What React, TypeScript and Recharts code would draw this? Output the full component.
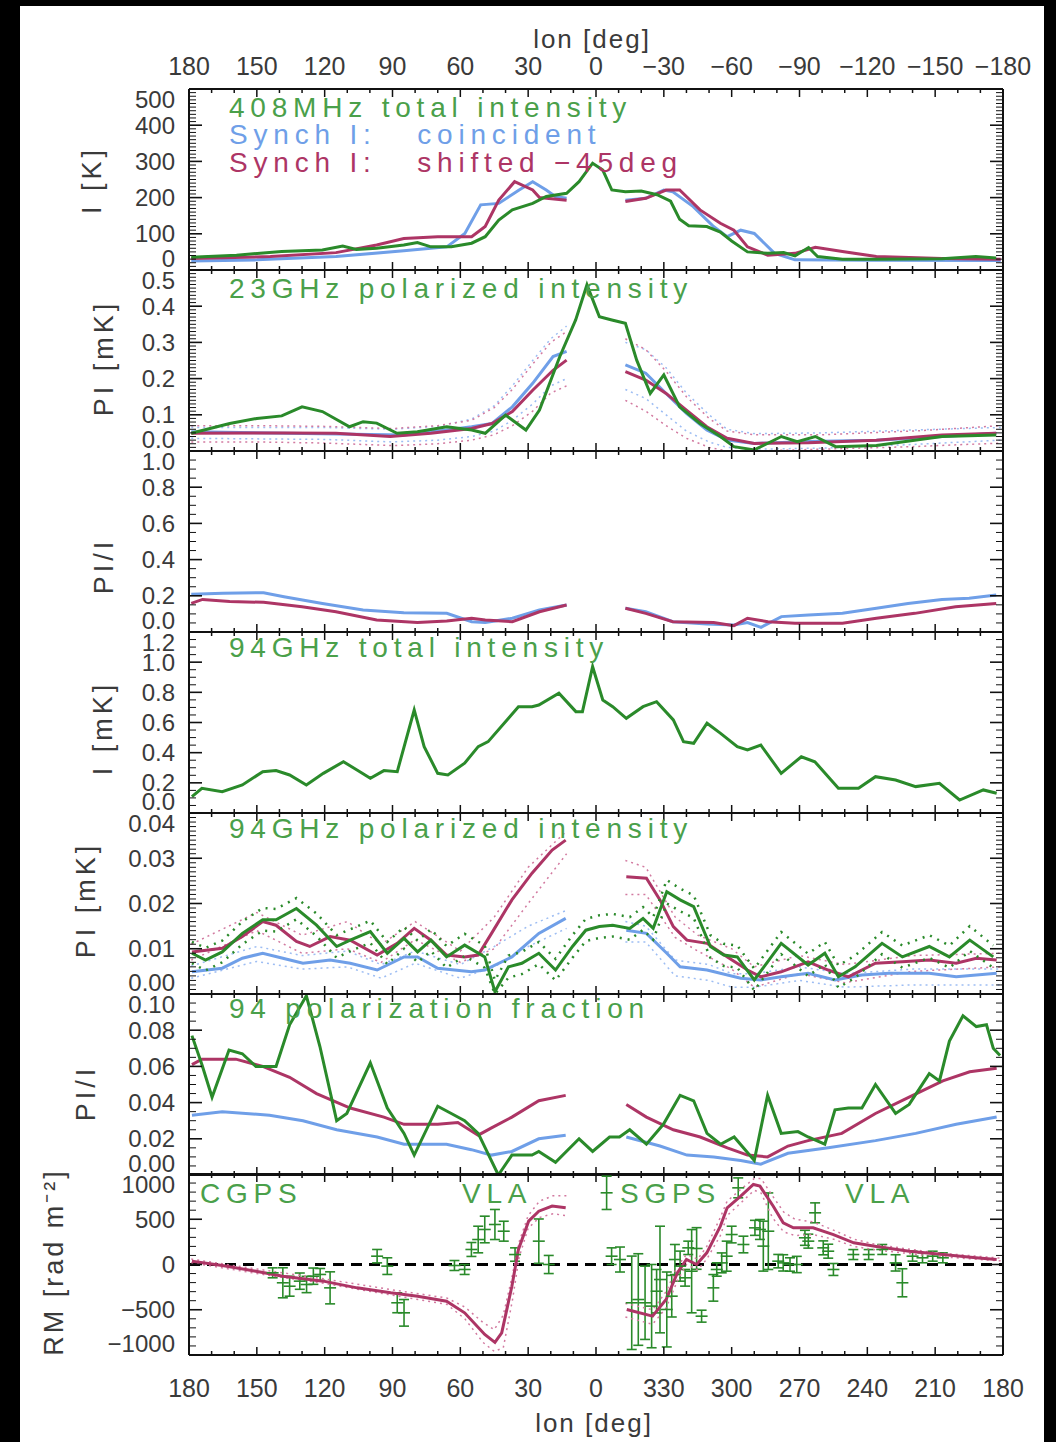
import React from "react";
import { ComposedChart, Line, XAxis, YAxis, Scatter, ErrorBar, ReferenceLine } from "recharts";

type Pt = [number, number | null];

// ---------- longitude axis ----------
const lonMajor = [180, 150, 120, 90, 60, 30, 0, -30, -60, -90, -120, -150, -180];
const lonTopLabels = ["180", "150", "120", "90", "60", "30", "0", "\u221230", "\u221260", "\u221290", "\u2212120", "\u2212150", "\u2212180"];
const lonBottomLabels = ["180", "150", "120", "90", "60", "30", "0", "330", "300", "270", "240", "210", "180"];

// ---------- panel 1: 408 MHz total intensity [K] ----------
const p1Ticks = [0, 100, 200, 300, 400, 500];
const p1Labels = ["0", "100", "200", "300", "400", "500"];
const i408Obs: Pt[] = [[179, 35], [159, 41], [139, 51], [121, 55], [112, 66], [106, 57], [97, 60], [85, 69], [79, 76], [73, 64], [64, 64], [55, 74], [49, 92], [43, 138], [37, 166], [28, 184], [22, 203], [13, 212], [7.5, 244], [1.5, 295], [-3, 276], [-7, 221], [-13, 216], [-20, 218], [-27, 208], [-33, 190], [-37, 140], [-41, 122], [-49, 120], [-55, 105], [-60, 80], [-67, 50], [-76, 46], [-83, 48], [-88, 39], [-94, 62], [-98, 37], [-109, 30], [-124, 30], [-153, 31], [-168, 37], [-177, 33]];
const i408Coin: Pt[] = [[179, 25], [150, 28], [115, 37], [85, 53], [66, 64], [58, 101], [51, 180], [43, 184], [34, 221], [28, 244], [22, 221], [18, 203], [13, 198], [0, null], [-13, 193], [-22, 198], [-30, 221], [-34, 216], [-43, 175], [-52, 120], [-58, 92], [-64, 110], [-70, 101], [-79, 46], [-88, 28], [-120, 27], [-179, 26]];
const i408Shift: Pt[] = [[179, 32], [144, 37], [115, 48], [97, 69], [85, 87], [70, 92], [55, 92], [49, 120], [43, 193], [36, 244], [28, 221], [25, 200], [13, 193], [0, null], [-13, 189], [-22, 198], [-31, 221], [-37, 221], [-46, 166], [-55, 129], [-61, 110], [-67, 64], [-76, 41], [-88, 46], [-97, 63], [-109, 51], [-124, 37], [-153, 32], [-179, 30]];

// ---------- panel 2: 23 GHz polarized intensity [mK] ----------
const p2Ticks = [0, 0.1, 0.2, 0.3, 0.4, 0.5];
const p2Labels = ["0.0", "0.1", "0.2", "0.3", "0.4", "0.5"];
const pi23Obs: Pt[] = [[179, 0.049], [162, 0.076], [150, 0.09], [139, 0.097], [130, 0.122], [121, 0.109], [109, 0.067], [103, 0.081], [97, 0.077], [88, 0.049], [79, 0.053], [66, 0.067], [55, 0.058], [49, 0.049], [40, 0.099], [31, 0.058], [25, 0.113], [16, 0.261], [9, 0.362], [4, 0.459], [-1.5, 0.371], [-7, 0.362], [-13, 0.353], [-18, 0.251], [-24, 0.159], [-30, 0.21], [-37, 0.122], [-46, 0.076], [-55, 0.04], [-61, 0.012], [-70, 0.003], [-82, 0.04], [-89, 0.026], [-97, 0.04], [-106, 0.012], [-124, 0.015], [-153, 0.04], [-177, 0.044]];
const pi23Coin: Pt[] = [[179, 0.053], [85, 0.044], [66, 0.058], [55, 0.067], [46, 0.076], [37, 0.122], [28, 0.187], [19, 0.261], [13, 0.275], [0, null], [-13, 0.238], [-22, 0.215], [-31, 0.159], [-40, 0.104], [-49, 0.058], [-58, 0.03], [-70, 0.021], [-94, 0.026], [-124, 0.03], [-153, 0.04], [-177, 0.049]];
const pi23Shift: Pt[] = [[179, 0.049], [138, 0.05], [115, 0.049], [91, 0.04], [73, 0.049], [55, 0.062], [46, 0.076], [37, 0.109], [28, 0.168], [19, 0.223], [13, 0.251], [0, null], [-13, 0.219], [-22, 0.196], [-31, 0.159], [-40, 0.113], [-49, 0.067], [-58, 0.035], [-70, 0.021], [-94, 0.023], [-124, 0.03], [-153, 0.044], [-177, 0.049]];
const pi23CoinHi: Pt[] = [[179, 0.065], [120, 0.065], [90, 0.06], [70, 0.068], [55, 0.088], [45, 0.125], [37, 0.18], [28, 0.25], [20, 0.31], [13, 0.345], [0, null], [-13, 0.3], [-22, 0.28], [-31, 0.23], [-40, 0.16], [-50, 0.1], [-58, 0.06], [-70, 0.048], [-100, 0.05], [-140, 0.058], [-179, 0.065]];
const pi23CoinLo: Pt[] = [[179, 0.035], [120, 0.032], [90, 0.025], [70, 0.03], [55, 0.04], [45, 0.055], [37, 0.085], [28, 0.13], [20, 0.18], [13, 0.2], [0, null], [-13, 0.17], [-22, 0.145], [-31, 0.1], [-40, 0.055], [-50, 0.025], [-58, 0.01], [-70, 0.005], [-100, 0.008], [-140, 0.018], [-179, 0.03]];
const pi23ShiftHi: Pt[] = [[179, 0.07], [150, 0.07], [120, 0.068], [90, 0.062], [70, 0.07], [55, 0.085], [45, 0.12], [37, 0.17], [28, 0.24], [20, 0.3], [13, 0.33], [0, null], [-13, 0.31], [-22, 0.28], [-31, 0.22], [-40, 0.15], [-50, 0.09], [-58, 0.055], [-70, 0.045], [-100, 0.045], [-140, 0.055], [-179, 0.07]];
const pi23ShiftLo: Pt[] = [[179, 0.025], [150, 0.025], [120, 0.022], [90, 0.015], [70, 0.02], [55, 0.03], [45, 0.045], [37, 0.07], [28, 0.11], [20, 0.16], [13, 0.18], [0, null], [-13, 0.14], [-22, 0.11], [-31, 0.07], [-40, 0.035], [-50, 0.01], [-58, 0.0], [-70, 0.0], [-100, 0.005], [-140, 0.012], [-179, 0.022]];

// ---------- panel 3: synchrotron PI/I ----------
const p3Ticks = [0, 0.2, 0.4, 0.6, 0.8, 1.0];
const p3Labels = ["0.0", "0.2", "0.4", "0.6", "0.8", "1.0"];
const frac23Coin: Pt[] = [[179, 0.208], [165, 0.214], [147, 0.217], [138, 0.195], [121, 0.158], [103, 0.122], [85, 0.107], [66, 0.103], [55, 0.057], [49, 0.052], [37, 0.076], [25, 0.122], [13, 0.149], [0, null], [-13, 0.131], [-22, 0.112], [-34, 0.057], [-49, 0.044], [-61, 0.039], [-67, 0.052], [-73, 0.026], [-82, 0.085], [-94, 0.094], [-109, 0.103], [-124, 0.131], [-138, 0.158], [-153, 0.18], [-165, 0.186], [-177, 0.204]];
const frac23Shift: Pt[] = [[179, 0.158], [174, 0.18], [162, 0.168], [147, 0.164], [130, 0.14], [115, 0.112], [97, 0.066], [79, 0.052], [66, 0.061], [55, 0.076], [49, 0.066], [37, 0.057], [25, 0.112], [13, 0.149], [0, null], [-13, 0.131], [-22, 0.103], [-34, 0.057], [-52, 0.052], [-61, 0.035], [-67, 0.076], [-76, 0.057], [-88, 0.048], [-109, 0.048], [-124, 0.076], [-141, 0.103], [-159, 0.14], [-177, 0.158]];

// ---------- panel 4: 94 GHz total intensity [mK] ----------
const p4Ticks = [0, 0.2, 0.4, 0.6, 0.8, 1.0, 1.2];
const p4Labels = ["0.0", "0.2", "0.4", "0.6", "0.8", "1.0", "1.2"];
const i94Obs: Pt[] = [[178.7, 0.108], [174.3, 0.164], [165.3, 0.141], [156.4, 0.186], [147.4, 0.274], [141.5, 0.281], [135.5, 0.252], [128.1, 0.186], [120.6, 0.263], [111.7, 0.34], [105.7, 0.285], [99.8, 0.23], [93.8, 0.281], [87.9, 0.274], [80.4, 0.683], [76, 0.44], [70, 0.263], [65.5, 0.252], [58.1, 0.33], [52.1, 0.44], [47.7, 0.473], [38.7, 0.628], [34.3, 0.705], [28.3, 0.705], [25.3, 0.716], [16.4, 0.794], [8.9, 0.672], [6, 0.672], [1.5, 0.97], [-3, 0.749], [-7.4, 0.705], [-13.4, 0.628], [-20.8, 0.705], [-26.8, 0.738], [-34.2, 0.617], [-38.7, 0.473], [-43.2, 0.462], [-49.1, 0.595], [-55.1, 0.528], [-62.5, 0.44], [-67, 0.418], [-72.9, 0.45], [-81.9, 0.263], [-90.8, 0.373], [-96.8, 0.34], [-107.2, 0.164], [-116.1, 0.164], [-123.6, 0.241], [-132.5, 0.219], [-141.4, 0.175], [-151.9, 0.197], [-160.8, 0.086], [-171.3, 0.153], [-177.2, 0.131]];

// ---------- panel 5: 94 GHz polarized intensity [mK] ----------
const p5Ticks = [0, 0.01, 0.02, 0.03, 0.04];
const p5Labels = ["0.00", "0.01", "0.02", "0.03", "0.04"];
const pi94Obs: Pt[] = [[178.7, 0.009], [172.7, 0.0075], [165.3, 0.0093], [156.4, 0.0134], [147.4, 0.0164], [141.5, 0.0164], [132.5, 0.0189], [123.6, 0.0152], [114.7, 0.0105], [108.7, 0.0119], [99.8, 0.0138], [92.3, 0.009], [84.9, 0.0123], [78.9, 0.0093], [73, 0.0119], [66.1, 0.0082], [58.1, 0.0108], [49.2, 0.0082], [44.7, 0.0005], [38.7, 0.006], [32.8, 0.0068], [25.3, 0.009], [17.9, 0.0053], [10.4, 0.0105], [4.5, 0.0141], [-1.5, 0.0149], [-7.4, 0.0152], [-14.9, 0.0145], [-20.8, 0.0167], [-25.3, 0.0145], [-31.3, 0.0226], [-37.2, 0.0208], [-43.2, 0.0193], [-50.6, 0.0105], [-56.5, 0.0086], [-62.5, 0.0082], [-70, 0.0031], [-81.9, 0.0112], [-93.8, 0.0064], [-101.2, 0.009], [-107.2, 0.0038], [-114.6, 0.006], [-126.5, 0.0112], [-135.5, 0.0082], [-147.4, 0.0105], [-156.3, 0.0082], [-165.3, 0.0119], [-175.7, 0.0082]];
const pi94ObsHi: Pt[] = [[178.7, 0.0115], [172.7, 0.0102], [165.3, 0.0118], [156.4, 0.016], [147.4, 0.019], [141.5, 0.0188], [132.5, 0.0212], [123.6, 0.0178], [114.7, 0.013], [108.7, 0.0143], [99.8, 0.0162], [92.3, 0.0115], [84.9, 0.0148], [78.9, 0.0118], [73, 0.0143], [66.1, 0.0106], [58.1, 0.0133], [49.2, 0.0107], [44.7, 0.003], [38.7, 0.0085], [32.8, 0.0093], [25.3, 0.0115], [17.9, 0.0078], [10.4, 0.013], [4.5, 0.0166], [-1.5, 0.0174], [-7.4, 0.0177], [-14.9, 0.017], [-20.8, 0.0192], [-25.3, 0.017], [-31.3, 0.0252], [-37.2, 0.0233], [-43.2, 0.0218], [-50.6, 0.013], [-56.5, 0.0111], [-62.5, 0.0107], [-70, 0.0056], [-81.9, 0.0137], [-93.8, 0.0089], [-101.2, 0.0115], [-107.2, 0.0063], [-114.6, 0.0085], [-126.5, 0.0137], [-135.5, 0.0107], [-147.4, 0.013], [-156.3, 0.0107], [-165.3, 0.015], [-175.7, 0.0107]];
const pi94ObsLo: Pt[] = [[178.7, 0.0068], [172.7, 0.0052], [165.3, 0.007], [156.4, 0.011], [147.4, 0.014], [141.5, 0.0138], [132.5, 0.0165], [123.6, 0.0128], [114.7, 0.008], [108.7, 0.0095], [99.8, 0.0113], [92.3, 0.0066], [84.9, 0.01], [78.9, 0.007], [73, 0.0095], [66.1, 0.0058], [58.1, 0.0084], [49.2, 0.0058], [44.7, 0.0], [38.7, 0.0036], [32.8, 0.0044], [25.3, 0.0066], [17.9, 0.003], [10.4, 0.008], [4.5, 0.0117], [-1.5, 0.0124], [-7.4, 0.0127], [-14.9, 0.012], [-20.8, 0.0142], [-25.3, 0.012], [-31.3, 0.02], [-37.2, 0.0183], [-43.2, 0.0168], [-50.6, 0.008], [-56.5, 0.0062], [-62.5, 0.0058], [-70, 0.0008], [-81.9, 0.0088], [-93.8, 0.004], [-101.2, 0.0066], [-107.2, 0.0014], [-114.6, 0.0036], [-126.5, 0.0088], [-135.5, 0.0058], [-147.4, 0.008], [-156.3, 0.0058], [-165.3, 0.0095], [-175.7, 0.0058]];
const pi94Coin: Pt[] = [[178.7, 0.0049], [165.3, 0.0057], [156.4, 0.0079], [147.4, 0.009], [138.5, 0.0079], [129.6, 0.0068], [117.6, 0.0075], [108.7, 0.0068], [96.8, 0.0053], [84.9, 0.0082], [78.9, 0.0082], [70, 0.0057], [55.1, 0.0049], [49.2, 0.0053], [37.2, 0.0082], [25.3, 0.0134], [13.4, 0.0167], [0, null], [-13.4, 0.0141], [-22.3, 0.0134], [-31.3, 0.009], [-37.2, 0.006], [-49.1, 0.0053], [-64, 0.0035], [-72.9, 0.0031], [-81.9, 0.0038], [-93.8, 0.0046], [-105.7, 0.0031], [-117.6, 0.0042], [-129.5, 0.0046], [-147.4, 0.0046], [-159.3, 0.0038], [-177.2, 0.0046]];
const pi94Shift: Pt[] = [[178.7, 0.0093], [165.3, 0.0101], [156.4, 0.0127], [147.4, 0.016], [141.5, 0.0152], [132.5, 0.0116], [126.6, 0.0105], [117.6, 0.0127], [108.7, 0.0119], [96.8, 0.0086], [87.9, 0.0112], [80.4, 0.0145], [73, 0.0119], [66.1, 0.0086], [58.1, 0.0082], [52.1, 0.0086], [46.2, 0.0134], [37.2, 0.0208], [28.3, 0.0267], [19.4, 0.0318], [13.4, 0.034], [0, null], [-13.4, 0.0259], [-22.3, 0.0256], [-28.3, 0.0208], [-34.2, 0.0149], [-40.2, 0.0119], [-49.1, 0.0112], [-58.1, 0.0082], [-67, 0.0053], [-72.9, 0.0038], [-81.9, 0.0049], [-93.8, 0.0071], [-102.7, 0.0053], [-111.6, 0.0038], [-123.6, 0.0068], [-135.5, 0.0071], [-147.4, 0.0075], [-159.3, 0.0068], [-168.2, 0.0079], [-177.2, 0.0075]];
const pi94CoinHi: Pt[] = [[179, 0.0062], [150, 0.0105], [130, 0.0085], [110, 0.0095], [95, 0.0065], [80, 0.0095], [60, 0.0065], [45, 0.0105], [30, 0.015], [13, 0.0185], [0, null], [-13, 0.016], [-22, 0.015], [-35, 0.0075], [-50, 0.0065], [-60, 0.0045], [-70, 0.0045], [-90, 0.006], [-110, 0.0045], [-140, 0.0055], [-179, 0.0055]];
const pi94CoinLo: Pt[] = [[179, 0.0035], [150, 0.0072], [130, 0.0055], [110, 0.006], [95, 0.0035], [80, 0.0068], [60, 0.0035], [45, 0.006], [30, 0.0105], [13, 0.0145], [0, null], [-13, 0.0115], [-22, 0.0115], [-35, 0.004], [-50, 0.003], [-60, 0.0015], [-70, 0.0015], [-90, 0.003], [-110, 0.0015], [-140, 0.002], [-179, 0.002]];
const pi94ShiftHi: Pt[] = [[179, 0.011], [150, 0.018], [130, 0.013], [110, 0.016], [95, 0.011], [80, 0.016], [60, 0.0095], [45, 0.017], [30, 0.028], [13, 0.036], [0, null], [-13, 0.0295], [-22, 0.028], [-35, 0.017], [-45, 0.013], [-60, 0.01], [-70, 0.006], [-90, 0.0085], [-110, 0.0065], [-140, 0.0085], [-179, 0.009]];
const pi94ShiftLo: Pt[] = [[179, 0.0075], [150, 0.014], [130, 0.009], [110, 0.01], [95, 0.007], [80, 0.012], [60, 0.007], [45, 0.01], [30, 0.02], [13, 0.031], [0, null], [-13, 0.022], [-22, 0.022], [-35, 0.0125], [-45, 0.0095], [-60, 0.0055], [-70, 0.0015], [-90, 0.0045], [-110, 0.0025], [-140, 0.005], [-179, 0.006]];

// ---------- panel 6: 94 GHz polarization fraction ----------
const p6Ticks = [0, 0.02, 0.04, 0.06, 0.08, 0.1];
const p6Labels = ["0.00", "0.02", "0.04", "0.06", "0.08", "0.10"];
const frac94Obs: Pt[] = [[178.7, 0.077], [174.3, 0.061], [169.8, 0.043], [162.3, 0.069], [156.4, 0.067], [150.4, 0.06], [141.5, 0.06], [135.5, 0.083], [128.1, 0.099], [122.1, 0.071], [114.7, 0.03], [110.2, 0.034], [99.8, 0.062], [92.3, 0.037], [84.9, 0.023], [80.4, 0.011], [70, 0.038], [64, 0.034], [58.1, 0.03], [52.1, 0.023], [43.2, 0.0], [37.2, 0.011], [28.3, 0.011], [25.3, 0.013], [17.9, 0.007], [7.5, 0.02], [1.5, 0.013], [-6, 0.021], [-10.4, 0.021], [-14.9, 0.025], [-22.3, 0.017], [-29.8, 0.028], [-37.2, 0.044], [-43.2, 0.041], [-49.1, 0.023], [-55.1, 0.017], [-61.1, 0.021], [-70, 0.008], [-75.9, 0.044], [-81.9, 0.023], [-89.3, 0.024], [-93.8, 0.021], [-101.2, 0.017], [-105.7, 0.036], [-111.6, 0.037], [-117.6, 0.037], [-123.6, 0.05], [-132.5, 0.034], [-138.5, 0.039], [-147.4, 0.056], [-151.9, 0.052], [-156.3, 0.074], [-162.3, 0.088], [-168.2, 0.082], [-172.7, 0.083], [-175.7, 0.07], [-178.7, 0.066]];
const frac94Coin: Pt[] = [[178.7, 0.033], [165.3, 0.035], [144.4, 0.033], [129.6, 0.03], [114.7, 0.025], [96.8, 0.021], [84.9, 0.017], [66.1, 0.017], [55.1, 0.014], [46.2, 0.011], [37.2, 0.013], [25.3, 0.02], [13.4, 0.022], [0, null], [-13.4, 0.021], [-28.3, 0.016], [-40.2, 0.011], [-52.1, 0.01], [-64, 0.008], [-72.9, 0.006], [-84.9, 0.012], [-102.7, 0.015], [-123.6, 0.019], [-141.4, 0.023], [-159.3, 0.028], [-177.2, 0.032]];
const frac94Shift: Pt[] = [[178.7, 0.061], [174.3, 0.064], [159.3, 0.064], [147.4, 0.06], [135.5, 0.054], [123.6, 0.045], [108.7, 0.037], [93.8, 0.032], [84.9, 0.028], [70, 0.028], [61.1, 0.029], [52.1, 0.022], [46.2, 0.026], [37.2, 0.032], [25.3, 0.041], [13.4, 0.044], [0, null], [-13.4, 0.039], [-22.3, 0.032], [-34.2, 0.025], [-46.1, 0.021], [-58.1, 0.015], [-67, 0.011], [-75.9, 0.01], [-84.9, 0.016], [-93.8, 0.019], [-108.7, 0.023], [-123.6, 0.034], [-138.5, 0.043], [-153.4, 0.052], [-165.3, 0.057], [-177.2, 0.059]];

// ---------- panel 7: rotation measure [rad m^-2] ----------
const p7Ticks = [-1000, -500, 0, 500, 1000];
const p7Labels = ["\u22121000", "\u2212500", "0", "500", "1000"];
const rmModel: Pt[] = [[178.7, 37], [165.3, -11], [150.4, -74], [138.5, -129], [120.6, -184], [105.7, -258], [90.8, -313], [78.9, -350], [66.1, -405], [58.1, -534], [49.2, -773], [44.7, -860], [41.7, -755], [37.2, -240], [34.3, 166], [29.8, 479], [25.3, 589], [19.4, 645], [13.4, 626], [0, null], [-13.6, -497], [-25, -571], [-31, -387], [-36, -92], [-40, 55], [-44.5, 0], [-49, 129], [-55, 424], [-58, 626], [-64, 755], [-69.6, 884], [-72.5, 866], [-78.4, 644], [-82.8, 460], [-87.3, 405], [-96, 405], [-105, 331], [-114, 240], [-124, 200], [-138.5, 147], [-153.4, 110], [-168, 74], [-177.2, 55]];
const rmModelHi: Pt[] = [[179, 60], [150, -50], [120, -160], [90, -280], [66, -370], [58, -470], [50, -640], [45, -720], [41, -560], [37, -120], [34, 250], [30, 540], [25, 700], [19, 760], [13, 760], [0, null], [-13, -430], [-25, -500], [-31, -300], [-36, -20], [-40, 110], [-45, 60], [-49, 200], [-55, 520], [-58, 700], [-64, 830], [-70, 950], [-73, 950], [-78, 760], [-83, 580], [-88, 500], [-96, 470], [-105, 380], [-114, 280], [-124, 220], [-150, 130], [-179, 70]];
const rmModelLo: Pt[] = [[179, 20], [150, -100], [120, -210], [90, -340], [66, -440], [58, -600], [50, -860], [45, -960], [41, -920], [37, -400], [34, 80], [30, 400], [25, 520], [19, 560], [13, 540], [0, null], [-13, -580], [-25, -660], [-31, -480], [-36, -180], [-40, 0], [-45, -60], [-49, 60], [-55, 320], [-58, 540], [-64, 680], [-70, 820], [-73, 790], [-78, 520], [-83, 360], [-88, 320], [-96, 330], [-105, 280], [-114, 200], [-124, 160], [-150, 90], [-179, 40]];
// [lon, RM, error]
const rmObs: [number, number, number][] = [
  [143, -92, 55], [138.5, -202, 166], [135.5, -240, 110], [131, -184, 90], [128, -221, 90], [125, -129, 90], [122, -110, 66], [117.6, -258, 177],
  [96.8, 92, 74], [92.3, -18, 92], [87.9, -423, 110], [84.9, -534, 147], [62.6, -11, 55], [58.1, -55, 55], [55.1, 166, 77], [52.1, 276, 147],
  [49.2, 387, 147], [44.7, 442, 166], [40.8, 368, 110], [35.8, 110, 74], [25.3, 258, 245], [20.9, 0, 100],
  [-4.7, 792, 184], [-6.9, 92, 92], [-10.6, 55, 138], [-15.8, -423, 516], [-18.7, -387, 506], [-21.7, -423, 405], [-24.6, -460, 460],
  [-26.8, -295, 240], [-28.3, -166, 589], [-31.3, -497, 414], [-33.5, -350, 230], [-34.9, 55, 166], [-37.2, -18, 166], [-39.4, -147, 92],
  [-40.8, 184, 74], [-42.3, -74, 460], [-44.5, 177, 230], [-46.7, -571, 66], [-51.9, -258, 147], [-53.4, -55, 74], [-55.6, 18, 110],
  [-57.8, 92, 166], [-60, 331, 92], [-62.9, 847, 110], [-65.2, 221, 92], [-70.3, 405, 83], [-72.5, 387, 110], [-74, 203, 276],
  [-76.2, 368, 423], [-80.6, 37, 74], [-82.8, 18, 90], [-85.8, 0, 74], [-88.8, 0, 90], [-92.4, 295, 83], [-93.9, 258, 77],
  [-96.9, 571, 110], [-100.5, 184, 77], [-102.7, 147, 77], [-105, -55, 66], [-113.8, 110, 55], [-120.6, 110, 55], [-126.6, 166, 55],
  [-132.5, 18, 90], [-135.5, -202, 155], [-140, 92, 55], [-144.4, 74, 55], [-148.9, 92, 55], [-153.4, 74, 55],
];

// ---------- styling ----------
const FONT = "'Liberation Sans', Arial, sans-serif";
const INK = "#111";
const LABEL = "#3a3a3a";
const GREEN = "#2a8a2a";
const GREEN_TXT = "#4aa04a";
const BLUE = "#6f9fe8";
const RED = "#ad3565";
const BLUE_DOT = "#9dbdf3";
const RED_DOT = "#d27aa0";

const PLOT_L = 189;
const PLOT_R = 1003;
const PANEL_H = 181;
const M = 60;

const range = (lo: number, hi: number, step: number) => {
  const out: number[] = [];
  const n = Math.round((hi - lo) / step);
  for (let i = 0; i <= n; i++) out.push(+(lo + i * step).toFixed(6));
  return out;
};
const rows = (pts: Pt[]) => pts.map(([lon, v]) => ({ lon, v }));
const near = (a: number, b: number) => Math.abs(a - b) < 1e-9;

// end labels are nudged inward, as in the original stacked layout
const yTick = (side: "l" | "r", majors: number[], labels: string[], domain: [number, number]) => (p: any) => {
  const v = p.payload.value;
  const k = majors.findIndex((m) => near(m, v));
  const len = k >= 0 ? 13 : 7;
  const dir = side === "l" ? 1 : -1;
  let dy = 0;
  if (near(v, domain[1])) dy = 10;
  if (near(v, domain[0])) dy = -12;
  return (
    <g>
      <line x1={p.x} x2={p.x + dir * len} y1={p.y} y2={p.y} stroke={INK} strokeWidth={k >= 0 ? 1.6 : 1} />
      {side === "l" && k >= 0 && (
        <text x={p.x - 14} y={p.y + dy} textAnchor="end" dominantBaseline="central" fontSize={24} fill={LABEL} fontFamily={FONT}>
          {labels[k]}
        </text>
      )}
    </g>
  );
};

const xTick = (side: "t" | "b", labels: string[] | null) => (p: any) => {
  const v = p.payload.value;
  const k = lonMajor.findIndex((m) => near(m, v));
  const len = k >= 0 ? 8 : 4;
  const dir = side === "t" ? 1 : -1;
  return (
    <g>
      <line x1={p.x} x2={p.x} y1={p.y} y2={p.y + dir * len} stroke={INK} strokeWidth={1.5} />
      {labels && k >= 0 && (
        <text x={p.x} y={side === "t" ? p.y - 14 : p.y + 42} textAnchor="middle" fontSize={25} fill={LABEL} fontFamily={FONT}>
          {labels[k]}
        </text>
      )}
    </g>
  );
};

const lonTicks = range(-180, 180, 10);

type PanelProps = {
  top: number;
  domain: [number, number];
  majors: number[];
  labels: string[];
  minor: number;
  topLabels?: string[];
  bottomLabels?: string[];
  children: React.ReactNode;
};

// each axis is 1px thick so that it renders; margins are trimmed by that pixel
const Panel = ({ top, domain, majors, labels, minor, topLabels, bottomLabels, children }: PanelProps) => {
  const yTicks = range(domain[0], domain[1], minor);
  const axisLine = { stroke: INK, strokeWidth: 2 };
  return (
    <div style={{ position: "absolute", left: 0, top: top - M }}>
      <ComposedChart width={1056} height={PANEL_H + 2 * M}
        margin={{ top: M - 1, bottom: M - 1, left: PLOT_L - 1, right: 1056 - PLOT_R - 1 }}>
        <XAxis xAxisId="b" dataKey="lon" type="number" domain={[-180, 180]} reversed allowDataOverflow ticks={lonTicks} interval={0}
          orientation="bottom" height={1} tickSize={0} tickMargin={0} axisLine={axisLine} tick={xTick("b", bottomLabels ?? null)} />
        <XAxis xAxisId="t" dataKey="lon" type="number" domain={[-180, 180]} reversed allowDataOverflow ticks={lonTicks} interval={0}
          orientation="top" height={1} tickSize={0} tickMargin={0} axisLine={axisLine} tick={xTick("t", topLabels ?? null)} />
        <YAxis yAxisId="l" dataKey="v" type="number" domain={domain} allowDataOverflow ticks={yTicks} interval={0}
          orientation="left" width={1} tickSize={0} tickMargin={0} axisLine={axisLine} tick={yTick("l", majors, labels, domain)} />
        <YAxis yAxisId="r" dataKey="v" type="number" domain={domain} allowDataOverflow ticks={yTicks} interval={0}
          orientation="right" width={1} tickSize={0} tickMargin={0} axisLine={axisLine} tick={yTick("r", majors, labels, domain)} />
        {children}
      </ComposedChart>
    </div>
  );
};

const solid = (key: string, pts: Pt[], color: string, w = 3) => (
  <Line key={key} xAxisId="b" yAxisId="l" data={rows(pts)} dataKey="v" type="linear" stroke={color} strokeWidth={w}
    dot={false} isAnimationActive={false} connectNulls={false} />
);
const dotted = (key: string, pts: Pt[], color: string, w = 1.5, dash = "2 4") => (
  <Line key={key} xAxisId="b" yAxisId="l" data={rows(pts)} dataKey="v" type="linear" stroke={color} strokeWidth={w}
    strokeDasharray={dash} dot={false} isAnimationActive={false} connectNulls={false} />
);

const rmRows = rmObs.map(([lon, v, err]) => ({ lon, v, err }));

const PlusShape = (p: any) => (
  <line x1={p.cx - 6} x2={p.cx + 6} y1={p.cy} y2={p.cy} stroke={GREEN} strokeWidth={1.6} />
);

const tops = [89, 270, 451, 632, 813, 994, 1174];

const Title = ({ x, y, color, children }: { x: number; y: number; color: string; children: string }) => (
  <text x={x} y={y} fill={color} fontSize={28} letterSpacing={5.8} fontFamily={FONT} style={{ whiteSpace: "pre" }}>
    {children}
  </text>
);

const YTitle = ({ x, y, children, spacing = 4 }: { x: number; y: number; children: string; spacing?: number }) => (
  <text transform={`translate(${x},${y}) rotate(-90)`} textAnchor="middle" dominantBaseline="central" fontSize={27}
    letterSpacing={spacing} fill={LABEL} fontFamily={FONT}>
    {children}
  </text>
);

export default function App() {
  return (
    <div style={{ position: "absolute", left: 0, top: 0, width: 1056, height: 1442, background: "#000", overflow: "hidden" }}>
      <div style={{ position: "absolute", left: 20, top: 6, width: 1024, height: 1436, background: "#fff" }} />

      <Panel top={tops[0]} domain={[0, 500]} majors={p1Ticks} labels={p1Labels} minor={10} topLabels={lonTopLabels}>
        {solid("c", i408Coin, BLUE)}
        {solid("s", i408Shift, RED)}
        {solid("o", i408Obs, GREEN)}
      </Panel>

      <Panel top={tops[1]} domain={[0, 0.5]} majors={p2Ticks} labels={p2Labels} minor={0.01}>
        {dotted("ch", pi23CoinHi, BLUE_DOT)}
        {dotted("cl", pi23CoinLo, BLUE_DOT)}
        {dotted("sh", pi23ShiftHi, RED_DOT)}
        {dotted("sl", pi23ShiftLo, RED_DOT)}
        {solid("c", pi23Coin, BLUE)}
        {solid("s", pi23Shift, RED)}
        {solid("o", pi23Obs, GREEN)}
      </Panel>

      <Panel top={tops[2]} domain={[0, 1]} majors={p3Ticks} labels={p3Labels} minor={0.05}>
        {solid("c", frac23Coin, BLUE)}
        {solid("s", frac23Shift, RED)}
      </Panel>

      <Panel top={tops[3]} domain={[0, 1.2]} majors={p4Ticks} labels={p4Labels} minor={0.05}>
        {solid("o", i94Obs, GREEN)}
      </Panel>

      <Panel top={tops[4]} domain={[0, 0.04]} majors={p5Ticks} labels={p5Labels} minor={0.001}>
        {dotted("ch", pi94CoinHi, BLUE_DOT)}
        {dotted("cl", pi94CoinLo, BLUE_DOT)}
        {dotted("sh", pi94ShiftHi, RED_DOT)}
        {dotted("sl", pi94ShiftLo, RED_DOT)}
        {solid("c", pi94Coin, BLUE)}
        {solid("s", pi94Shift, RED)}
        {dotted("oh", pi94ObsHi, GREEN, 2.5, "2 6")}
        {dotted("ol", pi94ObsLo, GREEN, 2.5, "2 6")}
        {solid("o", pi94Obs, GREEN)}
      </Panel>

      <Panel top={tops[5]} domain={[0, 0.1]} majors={p6Ticks} labels={p6Labels} minor={0.005}>
        {solid("c", frac94Coin, BLUE)}
        {solid("s", frac94Shift, RED)}
        {solid("o", frac94Obs, GREEN)}
      </Panel>

      <Panel top={tops[6]} domain={[-1000, 1000]} majors={p7Ticks} labels={p7Labels} minor={100} bottomLabels={lonBottomLabels}>
        <ReferenceLine xAxisId="b" yAxisId="l" y={0} stroke="#000" strokeWidth={3} strokeDasharray="11 7" />
        <Scatter xAxisId="b" yAxisId="l" data={rmRows} dataKey="v" shape={PlusShape} isAnimationActive={false}>
          <ErrorBar dataKey="err" direction="y" width={5} stroke={GREEN} strokeWidth={1.6} />
        </Scatter>
        {dotted("mh", rmModelHi, RED_DOT)}
        {dotted("ml", rmModelLo, RED_DOT)}
        {solid("m", rmModel, RED)}
      </Panel>

      <svg width={1056} height={1442} style={{ position: "absolute", left: 0, top: 0 }}>
        <text x={592} y={48} textAnchor="middle" fontSize={26} fill={LABEL} fontFamily={FONT} letterSpacing={2}>lon [deg]</text>
        <text x={594} y={1432} textAnchor="middle" fontSize={26} fill={LABEL} fontFamily={FONT} letterSpacing={2}>lon [deg]</text>

        <YTitle x={92} y={180}>I [K]</YTitle>
        <YTitle x={104} y={358}>PI [mK]</YTitle>
        <YTitle x={104} y={566}>PI/I</YTitle>
        <YTitle x={103} y={728}>I [mK]</YTitle>
        <YTitle x={86} y={900}>PI [mK]</YTitle>
        <YTitle x={86} y={1093}>PI/I</YTitle>
        <YTitle x={54} y={1262} spacing={3}>{"RM [rad m\u207B\u00B2]"}</YTitle>

        <Title x={229} y={117} color={GREEN_TXT}>408MHz total intensity</Title>
        <Title x={229} y={144} color={BLUE}>{"Synch I:   coincident"}</Title>
        <Title x={229} y={172} color={RED}>{"Synch I:   shifted \u221245deg"}</Title>
        <Title x={229} y={298} color={GREEN_TXT}>23GHz polarized intensity</Title>
        <Title x={229} y={657} color={GREEN_TXT}>94GHz total intensity</Title>
        <Title x={229} y={838} color={GREEN_TXT}>94GHz polarized intensity</Title>
        <Title x={229} y={1018} color={GREEN_TXT}>94 polarization fraction</Title>
        <Title x={200} y={1203} color={GREEN_TXT}>CGPS</Title>
        <Title x={462} y={1203} color={GREEN_TXT}>VLA</Title>
        <Title x={620} y={1203} color={GREEN_TXT}>SGPS</Title>
        <Title x={845} y={1203} color={GREEN_TXT}>VLA</Title>
      </svg>
    </div>
  );
}
